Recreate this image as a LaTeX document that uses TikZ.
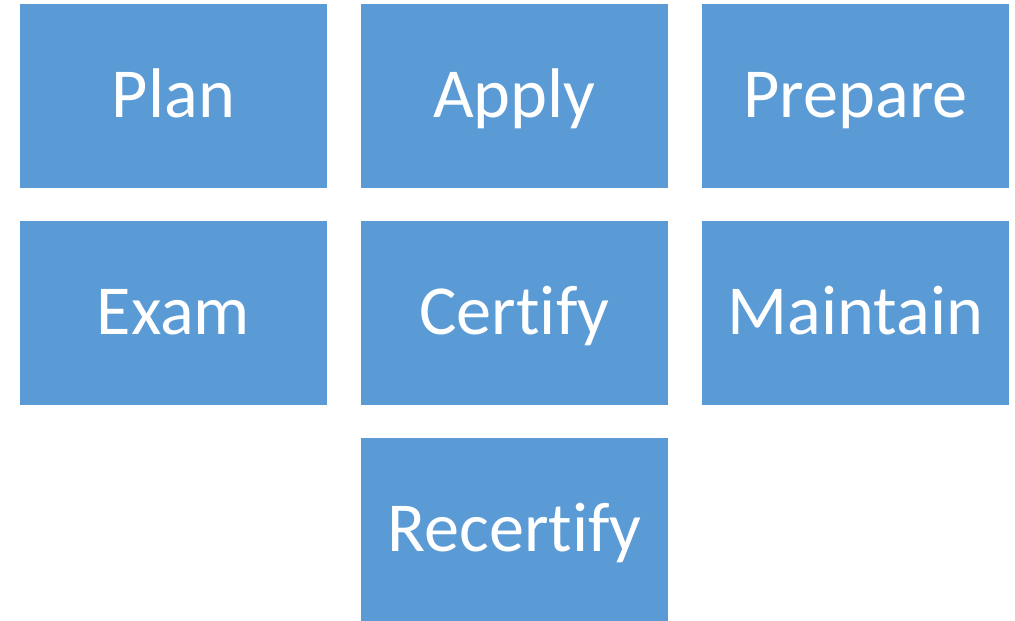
\documentclass[tikz,border=0pt]{standalone}
\usepackage{fontspec}
\setmainfont[Ligatures=NoCommon]{Carlito}
\definecolor{stepblue}{HTML}{5B9BD5}
\tikzset{
  stepbox/.style={fill=stepblue, draw=none, inner sep=0pt,
    minimum width=6.14cm, minimum height=3.68cm,
    text height=32pt, text depth=8pt,
    text=white, font=\fontsize{40}{48}\selectfont}
}
\begin{document}
\begin{tikzpicture}[x=0.02cm, y=-0.02cm]
  \useasboundingbox (0,0) rectangle (1015,621);
  % Row 1
  \node[stepbox] (plan)    at (173.5,96) {Plan};
  \node[stepbox] (apply)   at (514.5,96) {Apply};
  \node[stepbox] (prepare) at (855.5,96) {Prepare};
  % Row 2
  \node[stepbox] (exam)     at (173.5,313) {Exam};
  \node[stepbox] (certify)  at (514.5,313) {Certify};
  \node[stepbox] (maintain) at (855.5,313) {Maintain};
  % Row 3
  \node[stepbox] (recertify) at (514.5,530) {Recertify};
\end{tikzpicture}
\end{document}
